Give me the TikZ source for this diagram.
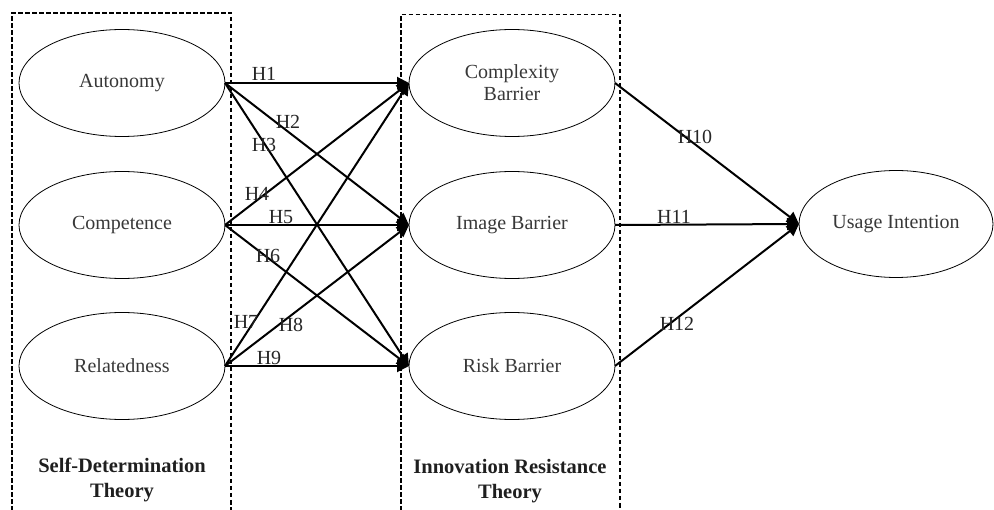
\documentclass[tikz,border=0pt]{standalone}
\usepackage{fontspec}
\setmainfont{Liberation Serif}
\usetikzlibrary{shapes.geometric,arrows.meta}
\begin{document}
\begin{tikzpicture}[x=1pt,y=-1pt,
  construct/.style={ellipse, draw, line width=0.8pt, minimum width=206pt,
    minimum height=107pt, inner sep=0pt, outer sep=0pt,
    font=\fontsize{20}{22}\selectfont, text=black!78, align=center},
  theorybox/.style={draw, dash pattern=on 4.5pt off 2.5pt, line width=1.2pt},
  hyp/.style={line width=2pt, -{Triangle[length=12pt,width=12pt]}},
  hlabel/.style={font=\fontsize{20}{20}\selectfont, inner sep=0pt, text=black!85},
  theory/.style={font=\bfseries\fontsize{20.5}{25}\selectfont, align=center, text=black!88}]

\useasboundingbox (0,0) rectangle (994,510);

% theory frames (open at the bottom edge)
\draw[theorybox] (12,525) -- (12,13) -- (231,13) -- (231,525);
\draw[theorybox] (401,525) -- (401,14.5) -- (620,14.5) -- (620,525);

% Self-Determination Theory constructs
\node[construct] (aut) at (122,83)  {Autonomy};
\node[construct] (com) at (122,225) {Competence};
\node[construct] (rel) at (122,366) {Relatedness};

% Innovation Resistance Theory constructs
\node[construct] (cpx) at (512,83)  {Complexity\\Barrier};
\node[construct] (img) at (512,225) {Image Barrier};
\node[construct] (rsk) at (512,366) {Risk Barrier};

% outcome
\node[construct, minimum width=194pt] (use) at (896,224) {Usage Intention};

% theory captions
\node[theory] (sdt) at (122,480) {Self-Determination\\Theory};
\node[theory] (irt) at (510,481) {Innovation Resistance\\Theory};

% hypothesised paths
\draw[hyp] (aut.east) -- (cpx.west);
\draw[hyp] (aut.east) -- (img.west);
\draw[hyp] (aut.east) -- (rsk.west);
\draw[hyp] (com.east) -- (cpx.west);
\draw[hyp] (com.east) -- (img.west);
\draw[hyp] (com.east) -- (rsk.west);
\draw[hyp] (rel.east) -- (cpx.west);
\draw[hyp] (rel.east) -- (img.west);
\draw[hyp] (rel.east) -- (rsk.west);
\draw[hyp] (cpx.east) -- (use.west);
\draw[hyp] (img.east) -- (use.west);
\draw[hyp] (rsk.east) -- (use.west);

% hypothesis labels
\node[hlabel] (h1)  at (264,74)  {H1};
\node[hlabel] (h2)  at (288,122) {H2};
\node[hlabel] (h3)  at (264,145) {H3};
\node[hlabel] (h4)  at (257,194) {H4};
\node[hlabel] (h5)  at (281,217) {H5};
\node[hlabel] (h6)  at (268,256) {H6};
\node[hlabel] (h7)  at (246,322) {H7};
\node[hlabel] (h8)  at (291,325) {H8};
\node[hlabel] (h9)  at (269,358) {H9};
\node[hlabel] (h10) at (695,137) {H10};
\node[hlabel] (h11) at (674,217) {H11};
\node[hlabel] (h12) at (677,324) {H12};
\end{tikzpicture}
\end{document}
